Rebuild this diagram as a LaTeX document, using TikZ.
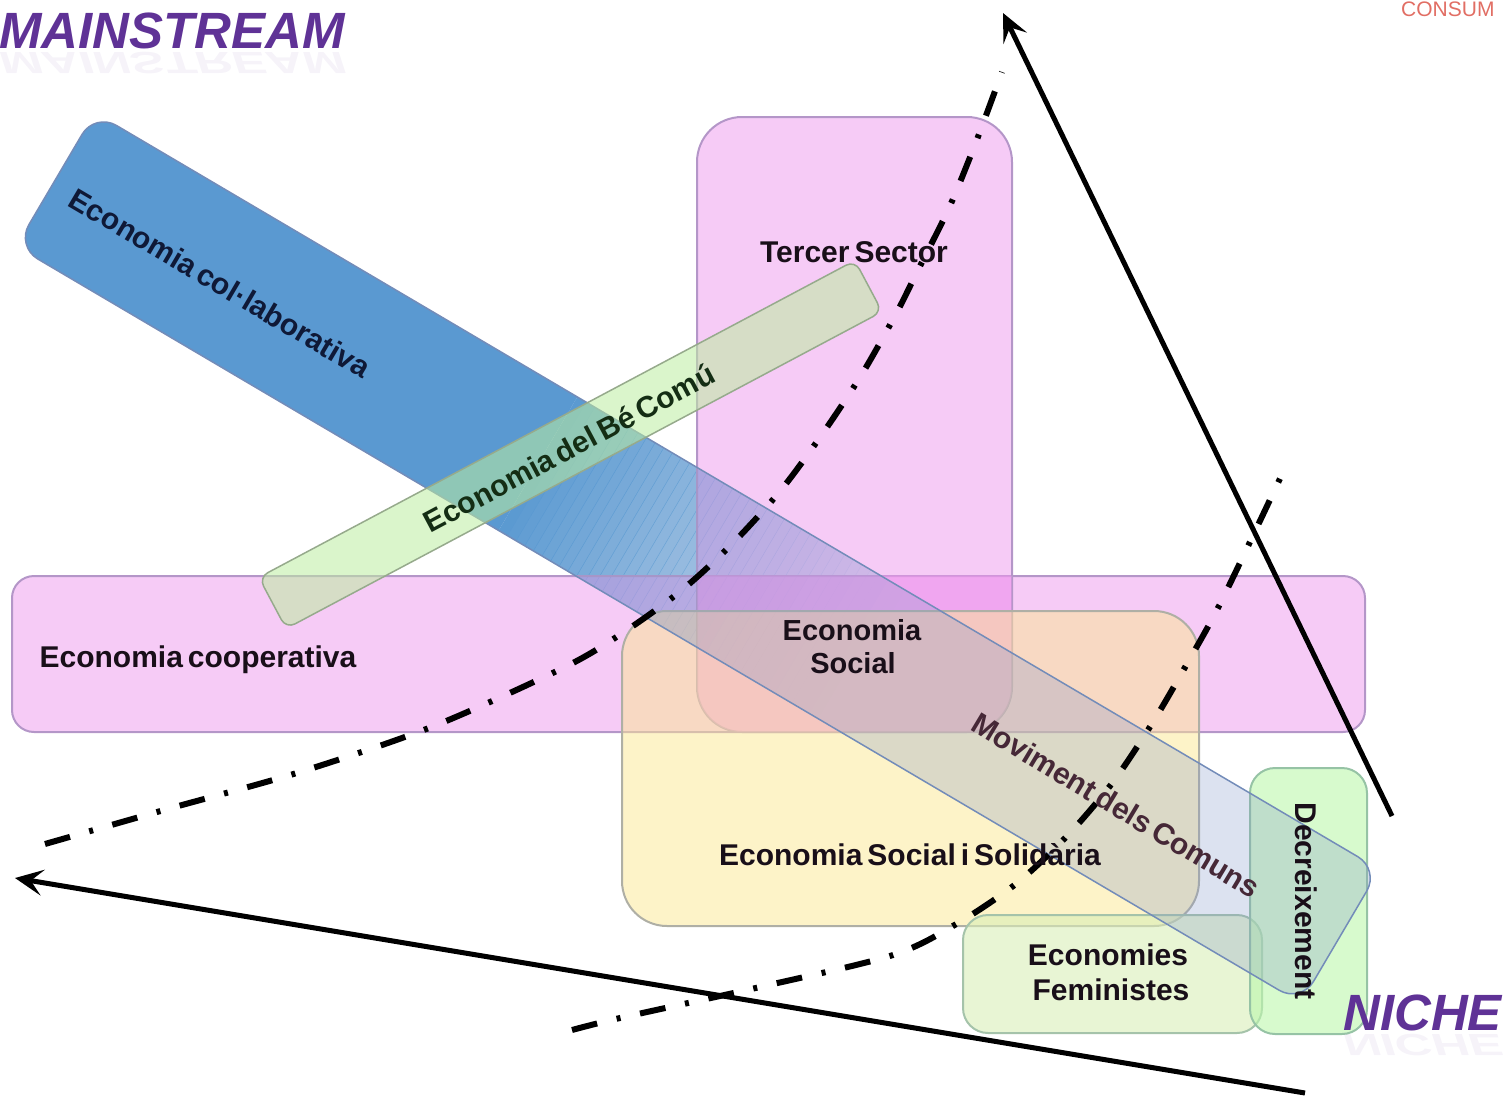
\documentclass[tikz,border=0pt]{standalone}
\usepackage{fontspec}
\setmainfont{Liberation Sans}[WordSpace=0.6]
\usetikzlibrary{arrows.meta}
\definecolor{bandblue}{RGB}{75,155,213}
\definecolor{bandgray}{RGB}{130,150,200}
\definecolor{bandedge}{RGB}{115,140,185}
\definecolor{pinkfill}{RGB}{237,151,237}
\definecolor{pinkedge}{RGB}{180,150,200}
\definecolor{yelfill}{RGB}{251,231,145}
\definecolor{yeledge}{RGB}{175,175,165}
\definecolor{femfill}{RGB}{217,238,183}
\definecolor{femedge}{RGB}{165,195,170}
\definecolor{decfill}{RGB}{188,247,172}
\definecolor{decedge}{RGB}{150,195,165}
\definecolor{grnfill}{RGB}{188,237,160}
\definecolor{grnedge}{RGB}{150,170,140}
\definecolor{labtxt}{RGB}{25,15,25}
\definecolor{navytxt}{RGB}{15,25,55}
\definecolor{greentxt}{RGB}{20,45,20}
\definecolor{movtxt}{RGB}{70,40,55}
\definecolor{purpletitle}{RGB}{95,50,150}
\definecolor{consumred}{RGB}{225,110,100}
\begin{document}
\begin{tikzpicture}[x=1pt,y=-1pt,
  lab/.style={font=\fontsize{30}{33}\selectfont\bfseries, text=labtxt, inner sep=0pt},
  boxfill/.style={line width=2pt, fill opacity=0.5},
  dashdot/.style={line width=6pt, dash pattern=on 26pt off 20pt on 4pt off 20pt},
  arrowline/.style={line width=5pt, -{Stealth[length=28pt,width=26pt,inset=12pt]}},
  title/.style={font=\fontsize{51}{55}\selectfont\bfseries\itshape, text=purpletitle, inner sep=0pt}]
\useasboundingbox (0,0) rectangle (1505,1098);

% blue band (col.laborativa / Moviment dels Comuns), gradient part
\begin{scope}[shift={(55.5,179.5)}, rotate=-30.5]
  \clip[rounded corners=25pt] (0,-77.5) rectangle (1491,77.5);
  \fill[bandblue] (-5,-90) rectangle (560,90);
  \foreach \i in {0,...,37}{
    \pgfmathsetmacro\op{1-(\i+0.5)/38}
    \fill[bandblue, fill opacity=\op] ({560+10*\i},-90) rectangle ({570.6+10*\i},90);
  }
\end{scope}

% pink boxes
\filldraw[boxfill, fill=pinkfill, draw=pinkedge, rounded corners=22pt] (12,576) rectangle (1365,732);
\filldraw[boxfill, fill=pinkfill, draw=pinkedge, rounded corners=45pt] (697,117) rectangle (1012,732);
\begin{scope}
  \clip[rounded corners=45pt] (697,117) rectangle (1012,732);
  \fill[pinkfill, fill opacity=0.4] (12,576) rectangle (1365,732);
\end{scope}
% yellow box
\filldraw[boxfill, fill=yelfill, draw=yeledge, rounded corners=45pt] (622,611) rectangle (1199,926);
% feministes, decreixement
\filldraw[line width=2pt, fill opacity=0.6, fill=femfill, draw=femedge, rounded corners=25pt] (963,915) rectangle (1262,1033);
\filldraw[line width=2pt, fill opacity=0.6, fill=decfill, draw=decedge, rounded corners=25pt] (1250,768) rectangle (1367,1034);

% band overlay and outline
\begin{scope}[shift={(55.5,179.5)}, rotate=-30.5]
  \filldraw[fill=bandgray, fill opacity=0.28, draw=bandedge, line width=1.5pt, rounded corners=25pt] (0,-77.5) rectangle (1491,77.5);
\end{scope}

% green band
\begin{scope}[shift={(272.5,603)}, rotate=28]
  \filldraw[fill=grnfill, fill opacity=0.55, draw=grnedge, line width=1.5pt, rounded corners=10pt] (0,-29) rectangle (675,29);
\end{scope}

% dash-dot curves
\coordinate (d1s) at (45,844);
\coordinate (d1e) at (1002,72);
\draw[dashdot] plot[smooth, tension=0.5] coordinates {(d1s) (164,810) (300,772) (434,726) (565,667) (624,632) (682,590) (733,543) (781,490) (823,433) (862,374) (897,312) (917,272) (949,208) (976,142) (d1e)};
\coordinate (d2s) at (572,1030);
\coordinate (d2e) at (1285,468);
\draw[dashdot] plot[smooth, tension=0.5] coordinates {(d2s) (620,1018) (760,987) (893,955) (958,923) (1017,883) (1068,835) (1113,782) (1153,722) (1188,662) (1222,600) (d2e)};

% solid arrows
\coordinate (aTop) at (1003,13);
\coordinate (aTopS) at (1392,816);
\coordinate (aLeft) at (15,878);
\coordinate (aLeftS) at (1305,1093);
\draw[arrowline] (aTopS) -- (aTop);
\draw[arrowline] (aLeftS) -- (aLeft);

% labels
\node[lab, anchor=base] (coop) at (198,667) {Economia cooperativa};
\node[lab, anchor=base] (tercer) at (854,262) {Tercer Sector};
\node[lab, anchor=base, font=\fontsize{29}{32}\selectfont\bfseries] (es1) at (852,640) {Economia};
\node[lab, anchor=base, font=\fontsize{29}{32}\selectfont\bfseries] (es2) at (853,673) {Social};
\node[lab, anchor=base] (ess) at (910,865) {Economia Social i Solidària};
\node[lab, anchor=base] (fem1) at (1108,965) {Economies};
\node[lab, anchor=base] (fem2) at (1111,1000) {Feministes};
\node[lab, rotate=-90] (decr) at (1306,901) {Decreixement};
\node[lab, rotate=-30.5, text=navytxt] (colab) at (220,283) {Economia col·laborativa};
\node[lab, rotate=28, text=greentxt] (bec) at (569,448) {Economia del Bé Comú};
\node[lab, rotate=-31, text=movtxt] (mov) at (1116,805) {Moviment dels Comuns};

% titles
\node[title, anchor=base west] (mainstream) at (-1,48) {MAINSTREAM};
\node[title, anchor=base west, yscale=-0.6, opacity=0.06] (mainstreamr) at (-1,52) {MAINSTREAM};
\node[title, anchor=base west] (niche) at (1343,1030) {NICHE};
\node[title, anchor=base west, yscale=-0.6, opacity=0.06] (nicher) at (1343,1034) {NICHE};
\node[anchor=base west, inner sep=0pt, font=\fontsize{21}{23}\selectfont, text=consumred] (consum) at (1401,16) {CONSUM};
\end{tikzpicture}
\end{document}
